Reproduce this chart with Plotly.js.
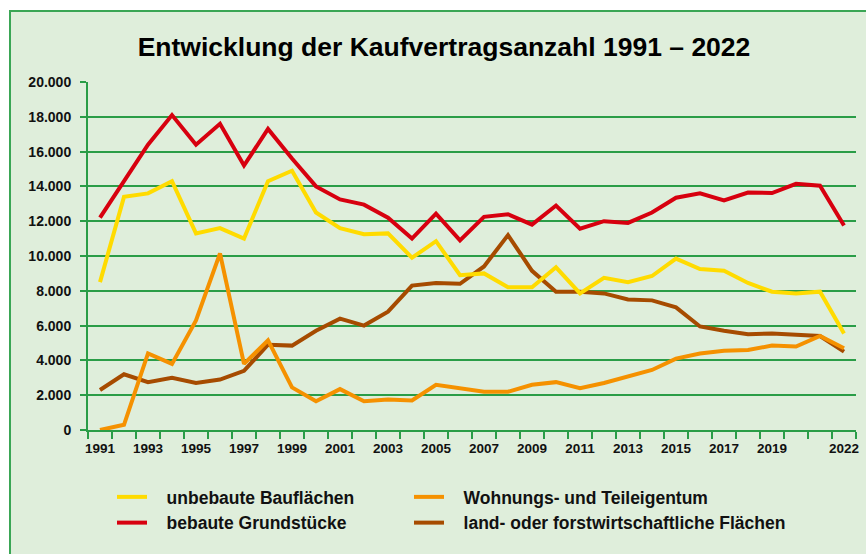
<!DOCTYPE html>
<html>
<head>
<meta charset="utf-8">
<script src="https://cdn.plot.ly/plotly-3.0.1.min.js"></script>
<style>
  html, body { margin: 0; padding: 0; background: #ffffff; }
  #bg { position: absolute; left: 9px; top: 10px; width: 866px; height: 560px;
        background: #dfeedb; border-left: 2px solid #3aa655; border-top: 2px solid #3aa655; }
  #chart { position: absolute; left: 0; top: 0; width: 866px; height: 554px; }
</style>
</head>
<body>
<div id="bg"></div>
<div id="chart"></div>
<script>
const years = [1991,1992,1993,1994,1995,1996,1997,1998,1999,2000,2001,2002,2003,2004,2005,2006,
               2007,2008,2009,2010,2011,2012,2013,2014,2015,2016,2017,2018,2019,2020,2021,2022];
const labelYears = [1991,1993,1995,1997,1999,2001,2003,2005,2007,2009,2011,2013,2015,2017,2019,2022];

const unbebaute = [8500,13400,13600,14300,11300,11600,11000,14300,14900,12500,11600,11250,11300,9900,10850,8900,
                   9000,8200,8200,9350,7850,8750,8500,8850,9850,9250,9150,8450,7950,7850,7950,5550];
const bebaute   = [12200,14300,16400,18100,16400,17600,15200,17300,15600,14000,13250,12950,12200,11000,12430,10900,
                   12250,12400,11800,12900,11570,12000,11900,12500,13350,13600,13200,13650,13620,14150,14040,11750];
const wohnungs  = [0,300,4400,3800,6300,10150,3800,5150,2450,1650,2350,1650,1750,1700,2600,2400,
                   2200,2200,2600,2750,2400,2700,3050,3450,4100,4400,4550,4600,4850,4800,5400,4700];
const landforst = [2300,3200,2750,3000,2700,2900,3400,4900,4850,5700,6400,6000,6800,8300,8450,8400,
                   9400,11200,9150,7950,7950,7850,7500,7450,7050,5950,5700,5500,5550,5500,5400,4500];

const names = ['unbebaute Bauflächen','bebaute Grundstücke','Wohnungs- und Teileigentum','land- oder forstwirtschaftliche Flächen'];
const colors = ['#ffdb00','#d7000f','#f59100','#a64b00'];
const green = '#2a9d47';
const pad = '\u00a0\u00a0\u00a0';

function tr(y, i, leg, grp) {
  return {x: years, y: y, type: 'scatter', mode: 'lines', name: pad + names[i],
          line: {color: colors[i], width: 4}, legend: leg, legendgroup: grp, hoverinfo: 'skip'};
}
const data = [
  tr(landforst, 3, 'legend2', 'd'),
  tr(wohnungs, 2, 'legend2', 'c'),
  tr(unbebaute, 0, 'legend', 'a'),
  tr(bebaute, 1, 'legend', 'b'),
  // invisible carrier trace so the label axis (x2) is drawn
  {x: years, y: bebaute, type: 'scatter', mode: 'lines', xaxis: 'x2', showlegend: false,
   line: {color: 'rgba(0,0,0,0)', width: 0}, hoverinfo: 'skip'}
];
data[0].legendrank = 2; data[1].legendrank = 1;
data[2].legendrank = 1; data[3].legendrank = 2;

const boundaries = years.map(v => v - 0.5).concat([years[years.length - 1] + 0.5]);
const xr = [years[0] - 0.5, years[years.length - 1] + 0.5];
const tickFont = {family: 'Liberation Sans, Arial, sans-serif', size: 14, color: '#111', weight: 700};
const xTickFont = {family: 'Liberation Sans, Arial, sans-serif', size: 13.5, color: '#111', weight: 700};
const legFont = {family: 'Liberation Sans, Arial, sans-serif', size: 17.5, color: '#111', weight: 700};

const layout = {
  width: 866, height: 554,
  paper_bgcolor: 'rgba(0,0,0,0)', plot_bgcolor: 'rgba(0,0,0,0)',
  margin: {l: 88, r: 10, t: 82, b: 124, autoexpand: false},
  separators: ',.',
  title: {text: 'Entwicklung der Kaufvertragsanzahl 1991 – 2022',
          font: {family: 'Liberation Sans, Arial, sans-serif', size: 26.5, color: '#000', weight: 700},
          x: 444/866, xanchor: 'center', xref: 'container', y: 1 - 47/554, yanchor: 'middle', yref: 'container'},
  xaxis: {range: xr, tickmode: 'array', tickvals: boundaries, showticklabels: false,
          ticks: 'outside', ticklen: 7, tickwidth: 2, tickcolor: green,
          showline: true, linecolor: green, linewidth: 2, showgrid: false, zeroline: false, fixedrange: true},
  xaxis2: {overlaying: 'x', anchor: 'y', side: 'bottom', range: xr, tickmode: 'array',
           tickvals: labelYears, ticktext: labelYears.map(String),
           ticks: 'outside', ticklen: 6, tickcolor: 'rgba(0,0,0,0)', tickfont: xTickFont,
           showline: false, showgrid: false, zeroline: false, fixedrange: true},
  yaxis: {range: [0, 20000], dtick: 2000, tickformat: ',d', tickfont: tickFont,
          ticks: 'outside', ticklen: 6, tickwidth: 2, tickcolor: green, ticklabelstandoff: 6,
          showgrid: true, gridcolor: green, gridwidth: 2,
          showline: true, linecolor: green, linewidth: 2, zeroline: false, fixedrange: true},
  showlegend: true,
  legend: {xref: 'container', yref: 'container', x: 112/866, y: 1 - 479/554, xanchor: 'left', yanchor: 'top',
           orientation: 'v', font: legFont, bgcolor: 'rgba(0,0,0,0)', tracegroupgap: 6, traceorder: 'normal'},
  legend2: {xref: 'container', yref: 'container', x: 409/866, y: 1 - 479/554, xanchor: 'left', yanchor: 'top',
           orientation: 'v', font: legFont, bgcolor: 'rgba(0,0,0,0)', tracegroupgap: 6, traceorder: 'normal'}
};
Plotly.newPlot('chart', data, layout, {displayModeBar: false, staticPlot: true});
</script>
</body>
</html>
